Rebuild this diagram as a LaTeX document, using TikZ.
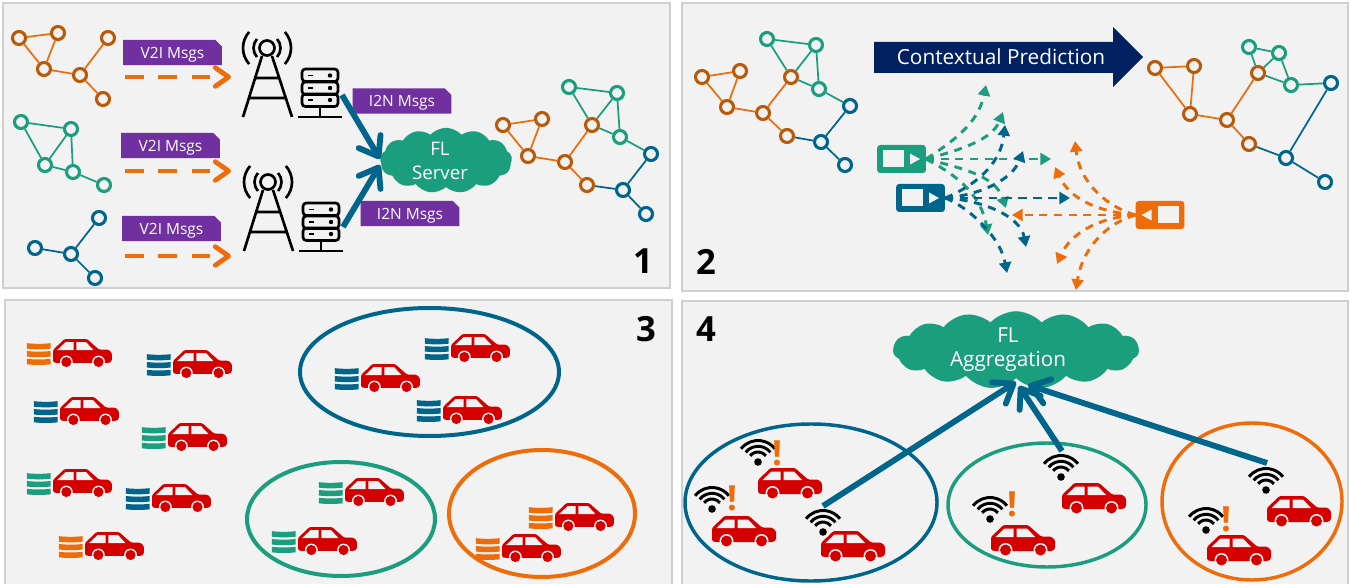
\documentclass[tikz,border=0pt]{standalone}
\usepackage{fontspec}
\setmainfont{Open Sans}
\usetikzlibrary{arrows.meta,shapes.misc,shapes.symbols}
\definecolor{flblue}{HTML}{00658A}
\definecolor{flgreen}{HTML}{1B9E7D}
\definecolor{florange}{HTML}{EE6C0A}
\definecolor{nodeorange}{HTML}{B85A0A}
\definecolor{tagpurple}{HTML}{7030A0}
\definecolor{navybar}{HTML}{002060}
\definecolor{carred}{HTML}{D40000}
\definecolor{panelbg}{HTML}{F2F2F2}
\definecolor{panelline}{HTML}{CFCFCF}
\newcommand{\carshape}{
  \fill[carred,rounded corners=1pt] (0,25)--(0,12)--(12.5,0)--(37,0)--(50,11.5)--(60,11.5)--(64,15)--(64,24)--(61,26)--(3,26)--cycle;
  \fill[panelbg] (4.5,12)--(13.5,3.5)--(22.5,3.5)--(22.5,12)--cycle (25.5,3.5)--(36,3.5)--(44,12)--(25.5,12)--cycle;
  \foreach \wx in {14.5,49.5} {
    \fill[panelbg] (\wx,25) circle (7);
    \fill[carred] (\wx,25) circle (5.5);
  }
}
\tikzset{
  panel/.style={draw=panelline,line width=1pt,fill=panelbg},
  gnode/.style={circle,fill=panelbg,line width=2.3pt,minimum size=9.75pt,inner sep=0pt},
  gnodeo/.style={gnode,draw=nodeorange},
  gnodeg/.style={gnode,draw=flgreen},
  gnodeb/.style={gnode,draw=flblue},
  gedgeo/.style={draw=florange,line width=1.3pt},
  gedgeg/.style={draw=flgreen,line width=1.3pt},
  gedgeb/.style={draw=flblue,line width=1.3pt},
  msgtag/.style={chamfered rectangle,chamfered rectangle corners=north east,chamfered rectangle sep=2.5pt,
    fill=tagpurple,text=white,minimum width=74pt,minimum height=19pt,inner sep=0pt,text depth=0pt,font=\fontsize{11.6}{13}\selectfont},
  flcloud/.style={cloud,cloud ignores aspect,cloud puff arc=95,fill=flgreen,text=white,align=center,inner sep=0pt},
  msgflow/.style={draw=florange,line width=3.6pt,dash pattern=on 14pt off 11pt,-{Straight Barb[round,length=10pt,width=14pt]}},
  upflow/.style={draw=flblue,line width=4.4pt,-{Straight Barb[round,length=13pt,width=19pt]}},
  dashg/.style={draw=flgreen,line width=2.2pt,dash pattern=on 6pt off 5pt,-{Triangle[length=8pt,width=9pt]}},
  dashb/.style={draw=flblue,line width=2.2pt,dash pattern=on 6pt off 5pt,-{Triangle[length=8pt,width=9pt]}},
  dasho/.style={draw=florange,line width=2.2pt,dash pattern=on 6pt off 5pt,-{Triangle[length=8pt,width=9pt]}},
  devbox/.style={rectangle,rounded corners=2.2pt,minimum width=36.5pt,minimum height=21pt,inner sep=0pt},
  panelno/.style={font=\fontsize{26}{26}\selectfont\bfseries,text=black,inner sep=0pt},
  alertmark/.style={font=\fontsize{26}{26}\selectfont\bfseries,text=florange,inner sep=0pt},
  every pic/.style={transform shape,yscale=-1},
  pics/car/.style={code={\carshape}},
  pics/cardata/.style={code={
    \carshape
    \foreach \by in {4.5,13,21.5}
      \fill[#1] (-28.5,\by) .. controls (-20,\by+1) and (-11,\by+1) .. (-2.5,\by) -- (-2.5,\by+6) .. controls (-11,\by+7) and (-20,\by+7) .. (-28.5,\by+6) -- cycle;
  }},
  pics/wifi/.style={code={
    \fill (0,0) circle (3.8);
    \foreach \wr in {10,15.7,21.5}
      \draw[line width=2.2pt] ([shift={(218:\wr)}]0,0) arc (218:322:\wr);
  }},
  pics/tower/.style={code={
    \draw[line width=2pt] (0,0) circle (7.5);
    \foreach \wr in {13.5,24} {
      \draw[line width=2pt] ([shift={(138:\wr)}]0,0) arc (138:222:\wr);
      \draw[line width=2pt] ([shift={(-42:\wr)}]0,0) arc (-42:42:\wr);
    }
    \draw[line width=2pt] (-5,8)--(-24,69) (5,8)--(25,69) (-12,30)--(12,30) (-17,50)--(18,50);
  }},
  pics/server/.style={code={
    \foreach \sy in {0,13,25}
      \draw[line width=2pt,rounded corners=2.5pt] (-18,\sy) rectangle (18,\sy+12.5);
    \foreach \sy in {6.5,19,31} {
      \fill (10,\sy) circle (2.2);
      \draw[line width=1.2pt] (-12,\sy)--(-7,\sy);
    }
    \draw[line width=2pt] (0,38)--(0,48) (-22,48)--(22,48);
  }},
  pics/devface/.style={code={
    \fill[panelbg] (-18.5,-9) rectangle (2.5,8);
    \fill[panelbg] (8.5,-5.5)--(18.5,0)--(8.5,5.5)--cycle;
  }},
}
\newcommand{\graphedges}[1]{
  \foreach \s/\t in {a/b,a/c,b/c,c/d,d/e,d/f}
    \path[gedgeo] (#1\s) -- (#1\t);
  \foreach \s/\t in {g/h,g/e,h/e,h/k,e/k,k/m}
    \path[gedgeg] (#1\s) -- (#1\t);
  \foreach \s/\t in {m/n,f/n,n/p}
    \path[gedgeb] (#1\s) -- (#1\t);
}
\begin{document}
\begin{tikzpicture}[x=0.75pt,y=0.75pt,yscale=-1,xscale=1]
\useasboundingbox (0,0) rectangle (1351,584);
% panels
\draw[panel] (3,3) rectangle (670,288);
\draw[panel] (682,3) rectangle (1348,291);
\draw[panel] (5,300) rectangle (672,590);
\draw[panel] (682,301) rectangle (1348,590);
\node[panelno] (numa) at (643,261) {1};
\node[panelno] (numb) at (706,262) {2};
\node[panelno] (numc) at (646,329) {3};
\node[panelno] (numd) at (706,329) {4};

% panel 1: local graphs
\foreach \n/\x/\y in {a/19/38,b/58/33,c/44/69,d/80/75,e/108/38,f/103/99}
  \node[gnodeo] (o\n) at (\x,\y) {};
\foreach \s/\t in {a/b,a/c,b/c,c/d,d/e,d/f}
  \path[gedgeo] (o\s) -- (o\t);
\foreach \n/\x/\y in {a/21/122,b/71/129,c/45/165,d/73/172,e/104/185}
  \node[gnodeg] (g\n) at (\x,\y) {};
\foreach \s/\t in {a/b,a/c,b/c,b/d,c/d,d/e}
  \path[gedgeg] (g\s) -- (g\t);
\foreach \n/\x/\y in {a/99/218,b/35/248,c/71/254,d/95/278}
  \node[gnodeb] (b\n) at (\x,\y) {};
\foreach \s/\t in {a/c,b/c,c/d}
  \path[gedgeb] (b\s) -- (b\t);

% panel 1: messages to the towers
\node[msgtag] (tagv) at (172.5,52.5) {V2I Msgs};
\node[msgtag] (tagw) at (170.5,145.5) {V2I Msgs};
\node[msgtag] (tagx) at (171.5,228.5) {V2I Msgs};
\node[msgtag] (tagy) at (402,101) {I2N Msgs};
\node[msgtag] (tagz) at (410,213.5) {I2N Msgs};
\foreach \n/\y in {a/77,b/171,c/256} {
  \coordinate (vs\n) at (125,\y);
  \coordinate (ve\n) at (231,\y);
  \draw[msgflow] (vs\n) -- (ve\n);
}
\pic at (267,48) {tower};
\pic at (268,182) {tower};
\pic at (320,69) {server};
\pic at (321,203) {server};

% panel 1: server and merged graph
\node[flcloud,cloud puffs=13,minimum width=99pt,minimum height=49pt,font=\fontsize{14}{18}\selectfont] (flserver) at (446,160.5) {FL\hspace*{9pt}\\Server\hspace*{9pt}};
\coordinate (srva) at (342,95);
\coordinate (srvb) at (343,227);
\coordinate (ina) at (380,159);
\coordinate (inb) at (380,165);
\draw[upflow] (srva) -- (ina);
\draw[upflow] (srvb) -- (inb);
\foreach \n/\x/\y in {a/503/125,b/542/119,c/528/156,d/565/162,e/592/125,f/587/185}
  \node[gnodeo] (p\n) at (\x,\y) {};
\foreach \n/\x/\y in {g/569/87,h/617/93,k/620/137}
  \node[gnodeg] (p\n) at (\x,\y) {};
\foreach \n/\x/\y in {m/651/154,n/623/190,p/646/214}
  \node[gnodeb] (p\n) at (\x,\y) {};
\graphedges{p}

% panel 2
\foreach \n/\x/\y in {a/702/77,b/740/71,c/727/107,d/763/113,e/791/77,f/787/136}
  \node[gnodeo] (q\n) at (\x,\y) {};
\foreach \n/\x/\y in {g/767/39,h/816/45,k/819/89}
  \node[gnodeg] (q\n) at (\x,\y) {};
\foreach \n/\x/\y in {m/850/106,n/821/142,p/845/165}
  \node[gnodeb] (q\n) at (\x,\y) {};
\graphedges{q}
\foreach \n/\x/\y in {a/1155/68,b/1194/66,c/1190/114,d/1227/120,e/1258/73,f/1249/144}
  \node[gnodeo] (r\n) at (\x,\y) {};
\foreach \n/\x/\y in {g/1249/47,h/1279/53,k/1291/85}
  \node[gnodeg] (r\n) at (\x,\y) {};
\foreach \n/\x/\y in {m/1331/83,n/1286/158,p/1325/182}
  \node[gnodeb] (r\n) at (\x,\y) {};
\graphedges{r}
\fill[navybar] (874,42) -- (1113,42) -- (1113,27) -- (1143,57) -- (1113,87) -- (1113,73) -- (874,73) -- cycle;
\node[text=white,inner sep=0pt,font=\fontsize{15.6}{17}\selectfont] (predtext) at (1001,57) {Contextual Prediction};

\node[devbox,fill=flgreen] (devg) at (901.5,159) {};
\node[devbox,fill=flblue] (devb) at (920.5,198) {};
\node[devbox,fill=florange] (devo) at (1160,215) {};
\pic at (devg.center) {devface};
\pic at (devb.center) {devface};
\pic[xscale=-1] at (devo.center) {devface};
\foreach \n/\ax/\ay/\bx/\by/\ex/\ey in {
  a/950/143/978/125/986/85,b/960/150/992/140/1003/112,c/960/159/1020/159/1051/159,
  d/960/168/995/175/1006/208,e/950/172/980/190/988/235}{
  \coordinate (ge\n) at (\ex,\ey);
  \draw[dashg] (devg.east) .. controls (\ax,\ay) and (\bx,\by) .. (ge\n);
}
\foreach \n/\ax/\ay/\bx/\by/\ex/\ey in {
  a/965/190/1000/170/1005/125,b/980/195/1012/180/1023/151,c/970/198/1040/198/1070/198,
  d/980/200/1020/215/1026/247,e/965/205/1000/235/1007/273}{
  \coordinate (be\n) at (\ex,\ey);
  \draw[dashb] (devb.east) .. controls (\ax,\ay) and (\bx,\by) .. (be\n);
}
\foreach \n/\ax/\ay/\bx/\by/\ex/\ey in {
  a/1110/208/1080/185/1075/141,b/1100/212/1070/200/1055/167,c/1100/215/1040/215/1012/215,
  d/1095/218/1070/235/1057/264,e/1110/222/1083/245/1076/290}{
  \coordinate (oe\n) at (\ex,\ey);
  \draw[dasho] (devo.west) .. controls (\ax,\ay) and (\bx,\by) .. (oe\n);
}

% panel 3
\foreach \x/\y/\c in {53/339/florange,173/350/flblue,60/397/flblue,168/423/flgreen,53/469/flgreen,
  152/484/flblue,85/532/florange,451/334/flblue,361/364/flblue,443/396/flblue,
  345/478/flgreen,298/527/flgreen,555/503/florange,502/534/florange}
  \pic[scale=0.92] at (\x,\y) {cardata=\c};
\draw[flblue,line width=3pt] (429.5,372) ellipse (129.5 and 64);
\draw[flgreen,line width=3pt] (341,519) ellipse (94 and 57);
\draw[florange,line width=3pt] (542,513.5) ellipse (93 and 63.5);

% panel 4
\draw[flblue,line width=2.6pt] (811,502.5) ellipse (126 and 78.5);
\draw[flgreen,line width=2.6pt] (1047,505) ellipse (99 and 62);
\draw[florange,line width=2.6pt] (1252,501.5) ellipse (90 and 78.5);
\foreach \x/\y in {758/468,712/516,821/531,1062/483,991/525,1267/496,1207/535}
  \pic at (\x,\y) {car};
\foreach \x/\y in {758/462,712/509,823/532,1061/477,990/519,1266/490,1206/530}
  \pic at (\x,\y) {wifi};
\node[alertmark] (alerta) at (777,453) {!};
\node[alertmark] (alertb) at (732,498) {!};
\node[alertmark] (alertc) at (1012,504) {!};
\node[alertmark] (alertd) at (1226,519) {!};
\node[flcloud,cloud puffs=15,minimum width=184.5pt,minimum height=47pt,font=\fontsize{15.5}{18}\selectfont] (flagg) at (1016,350) {FL\hspace*{12pt}\\Aggregation\hspace*{12pt}};
\coordinate (upa) at (823,506);
\coordinate (upb) at (1062,451);
\coordinate (upc) at (1267,463);
\coordinate (agga) at (1016,382);
\coordinate (aggb) at (1019,386);
\coordinate (aggc) at (1028,385);
\draw[upflow] (upa) -- (agga);
\draw[upflow] (upb) -- (aggb);
\draw[upflow] (upc) -- (aggc);
\end{tikzpicture}
\end{document}
